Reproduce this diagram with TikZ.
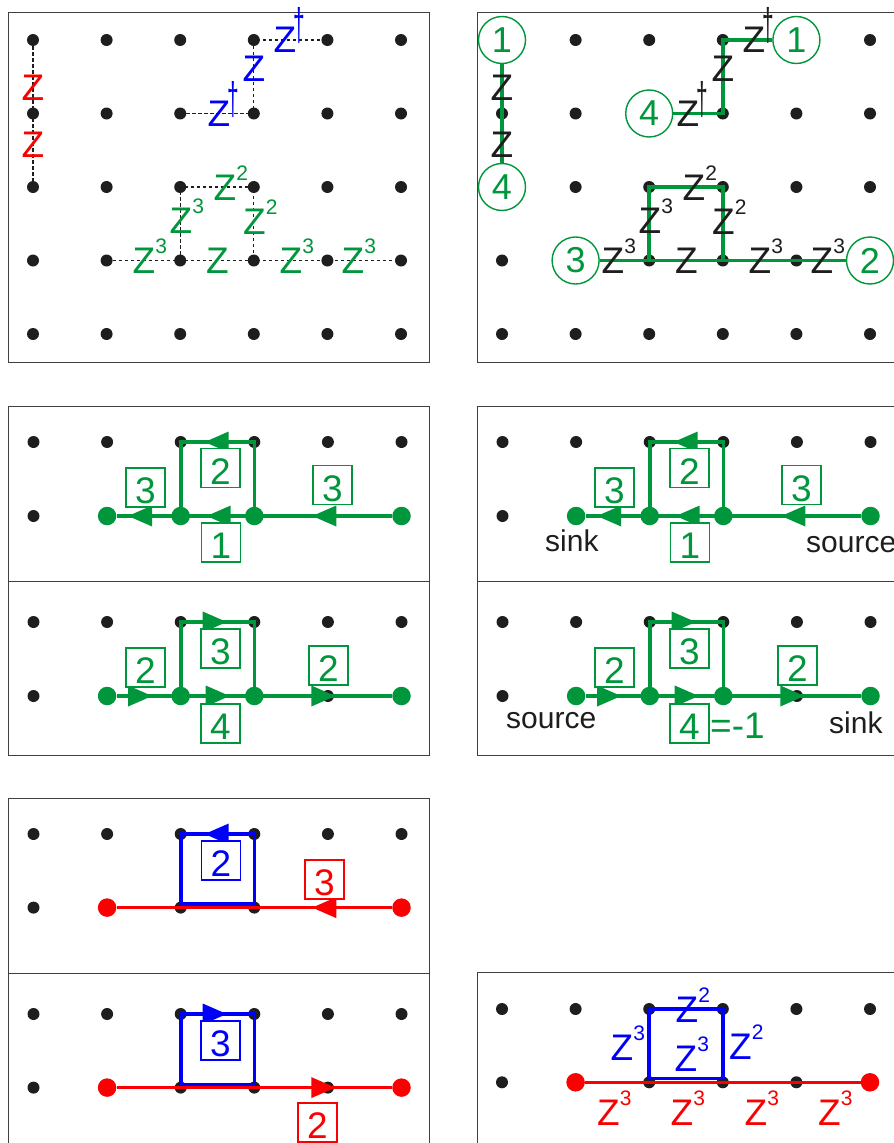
\documentclass[tikz,border=0pt]{standalone}
\usepackage{fontspec}
\setmainfont{Liberation Sans}
\usepackage{graphicx}
\usetikzlibrary{calc}

\definecolor{grn}{RGB}{0,150,60}
\definecolor{rd}{RGB}{250,0,0}
\definecolor{bl}{RGB}{0,0,250}
\definecolor{ink}{RGB}{30,30,30}

% Z with a small raised exponent that does not shift the Z off centre
\newcommand\Zsup[1]{Z\rlap{\smash{\raisebox{20pt}{\fontsize{21}{21}\selectfont #1}}}}
% Z with a slim, tall dagger
\newcommand\Zdag{Z\rlap{\smash{\hspace{-3pt}\raisebox{12pt}{\scalebox{0.55}[1.2]{\fontsize{38}{38}\selectfont †}}}}}

% filled triangular heads placed along an edge, offset from a grid point
\newcommand\headL[3]{\fill[#1] ($(#2)+(#3,0)$) -- ++(24,-10.5) -- ++(0,21) -- cycle;}
\newcommand\headR[3]{\fill[#1] ($(#2)+(#3,-10.5)$) -- ++(24,10.5) -- ++(-24,10.5) -- cycle;}

\tikzset{
  dot/.style={circle, fill=ink, inner sep=0pt, minimum size=12pt},
  bigdot/.style={circle, fill=#1, inner sep=0pt, minimum size=18.5pt},
  lab/.style={inner sep=0pt, font=\fontsize{37}{37}\selectfont},
  numbox/.style={draw=#1, text=#1, fill=white, line width=1.4pt, minimum size=39pt,
    inner sep=0pt, text height=32pt, text depth=0pt, font=\fontsize{37}{37}\selectfont},
  cnum/.style={circle, draw=grn, fill=white, text=grn, line width=1.4pt,
    minimum size=47pt, inner sep=0pt, font=\fontsize{36}{36}\selectfont},
  panel/.style={draw=black!75, line width=0.9pt},
  guide/.style={draw=ink, line width=1.3pt, dash pattern=on 3.5pt off 2.5pt},
  trail/.style={draw=#1, line width=3.6pt},
  note/.style={inner sep=0pt, anchor=base west, font=\fontsize{30}{30}\selectfont},
}

% two stacked flow panels (reversed flow above, forward flow below)
\newcommand\flowpanels[2]{%
  \foreach \i in {0,...,5}{\foreach \j in {0,1}{%
    \node[dot] (#1u-\i-\j) at ({#2+33.5+73.6*\i},{442+74*\j}) {};
    \node[dot] (#1l-\i-\j) at ({#2+33.5+73.6*\i},{622+74*\j}) {};}}
  \foreach \k in {1,2,3,5}{%
    \node[bigdot=grn] (#1u-g\k) at (#1u-\k-1) {};
    \node[bigdot=grn] (#1l-g\k) at (#1l-\k-1) {};}
  % upper half
  \draw[trail=grn] (#1u-g1) -- (#1u-g5);
  \draw[trail=grn] (#1u-g2) -- (#1u-2-0.center) -- (#1u-3-0.center) -- (#1u-g3);
  \headL{grn}{#1u-1-1}{21}
  \headL{grn}{#1u-2-1}{26}
  \headL{grn}{#1u-3-1}{58}
  \headL{grn}{#1u-2-0}{24}
  \node[numbox=grn] (#1u-b1) at ({#2+145.5},487.5) {3};
  \node[numbox=grn] (#1u-b2) at ({#2+220.5},468) {2};
  \node[numbox=grn] (#1u-b3) at ({#2+221},542.5) {1};
  \node[numbox=grn] (#1u-b4) at ({#2+332.5},485) {3};
  % lower half
  \draw[trail=grn] (#1l-g1) -- (#1l-g5);
  \draw[trail=grn] (#1l-g2) -- (#1l-2-0.center) -- (#1l-3-0.center) -- (#1l-g3);
  \headR{grn}{#1l-1-1}{21}
  \headR{grn}{#1l-2-1}{25}
  \headR{grn}{#1l-3-1}{57}
  \headR{grn}{#1l-2-0}{22}
  \node[numbox=grn] (#1l-b1) at ({#2+145.5},667.5) {2};
  \node[numbox=grn] (#1l-b2) at ({#2+220.5},648.5) {3};
  \node[numbox=grn] (#1l-b3) at ({#2+220.5},723.5) {4};
  \node[numbox=grn] (#1l-b4) at ({#2+328.5},665.5) {2};
}

\begin{document}
\begin{tikzpicture}[x=1pt, y=-1pt]
\useasboundingbox[fill=white] (0,0) rectangle (894,1143);

% panel outlines
\draw[panel] (8,12) rectangle (429,362);
\draw[panel] (477,12) rectangle (910,362);
\draw[panel] (8,406) rectangle (429,755);
\draw[panel] (8,581) -- (429,581);
\draw[panel] (477,406.5) rectangle (910,755.5);
\draw[panel] (477,581.5) -- (910,581.5);
\draw[panel] (8,798) rectangle (429,1160);
\draw[panel] (8,973) -- (429,973);
\draw[panel] (477,972) rectangle (910,1160);

% ---------- top row: lattices ----------
\foreach \i in {0,...,5}{\foreach \j in {0,...,4}{%
  \node[dot] (a-\i-\j) at ({33+73.6*\i},{40+73.5*\j}) {};
  \node[dot] (b-\i-\j) at ({502+73.6*\i},{40+73.5*\j}) {};}}

% left lattice: dashed bonds
\draw[guide] (a-0-0.center) -- (a-0-2.center);
\draw[guide] (a-2-1.center) -- (a-3-1.center) -- (a-3-0.center) -- (a-4-0.center);
\draw[guide] (a-1-3.center) -- (a-5-3.center);
\draw[guide] (a-2-3.center) -- (a-2-2.center) -- (a-3-2.center) -- (a-3-3.center);

\node[lab, text=rd] (za1) at (33,88) {Z};
\node[lab, text=rd] (za2) at (33,145) {Z};
\node[lab, text=bl] (za3) at (219,113.5) {\Zdag};
\node[lab, text=bl] (za4) at (254,69) {Z};
\node[lab, text=bl] (za5) at (285,40) {\Zdag};
\node[lab, text=grn] (za6) at (144,261) {\Zsup{3}};
\node[lab, text=grn] (za7) at (181,221) {\Zsup{3}};
\node[lab, text=grn] (za8) at (225,187.5) {\Zsup{2}};
\node[lab, text=grn] (za9) at (254.5,221.5) {\Zsup{2}};
\node[lab, text=grn] (za10) at (217.5,261) {Z};
\node[lab, text=grn] (za11) at (291,261) {\Zsup{3}};
\node[lab, text=grn] (za12) at (353,261) {\Zsup{3}};

% right lattice: numbered strings
\node[cnum] (c1a) at (b-0-0) {1};
\node[cnum] (c4a) at (b-0-2) {4};
\node[cnum] (c4b) at (b-2-1) {4};
\node[cnum] (c1b) at (b-4-0) {1};
\node[cnum] (c3)  at (b-1-3) {3};
\node[cnum] (c2)  at (b-5-3) {2};
\draw[trail=grn] (c1a) -- (c4a);
\draw[trail=grn] (c4b) -- (b-3-1.center) -- (b-3-0.center) -- (c1b);
\draw[trail=grn] (c3) -- (c2);
\draw[trail=grn] (b-2-3.center) -- (b-2-2.center) -- (b-3-2.center) -- (b-3-3.center);

\node[lab, text=ink] (zb1) at (502,88) {Z};
\node[lab, text=ink] (zb2) at (502,145) {Z};
\node[lab, text=ink] (zb3) at (688,113.5) {\Zdag};
\node[lab, text=ink] (zb4) at (723,69) {Z};
\node[lab, text=ink] (zb5) at (754,40) {\Zdag};
\node[lab, text=ink] (zb6) at (613,261) {\Zsup{3}};
\node[lab, text=ink] (zb7) at (650,221) {\Zsup{3}};
\node[lab, text=ink] (zb8) at (694,187.5) {\Zsup{2}};
\node[lab, text=ink] (zb9) at (723.5,221.5) {\Zsup{2}};
\node[lab, text=ink] (zb10) at (686.5,261) {Z};
\node[lab, text=ink] (zb11) at (760,261) {\Zsup{3}};
\node[lab, text=ink] (zb12) at (822,261) {\Zsup{3}};

% ---------- middle row: flows ----------
\flowpanels{m}{0}
\flowpanels{n}{469}
\node[note, text=ink] (snk1) at (545,551) {sink};
\node[note, text=ink] (src1) at (806,552) {source};
\node[note, text=ink] (src2) at (506,728) {source};
\node[note, text=ink] (snk2) at (829,733) {sink};
\node[note, text=grn, font=\fontsize{37}{37}\selectfont] (eq) at (710,738) {=-1};

% ---------- bottom row ----------
\foreach \i in {0,...,5}{\foreach \j in {0,1}{%
  \node[dot] (e-\i-\j) at ({33.5+73.6*\i},{834+73.6*\j}) {};
  \node[dot] (f-\i-\j) at ({33.5+73.6*\i},{1014+73.6*\j}) {};
  \node[dot] (g-\i-\j) at ({502+73.6*\i},{1009+73.3*\j}) {};}}

% upper left: red string with a blue loop
\node[bigdot=rd] (e-s) at (e-1-1) {};
\node[bigdot=rd] (e-t) at (e-5-1) {};
\draw[trail=rd] (e-s) -- (e-t);
\draw[trail=bl] (e-2-0.center) rectangle ($(e-3-1)+(0,-3.5)$);
\headL{bl}{e-2-0}{24}
\headL{rd}{e-3-1}{58}
\node[numbox=bl] (e-b1) at (221,860.5) {2};
\node[numbox=rd] (e-b2) at (324.5,879.5) {3};

% lower left
\node[bigdot=rd] (f-s) at (f-1-1) {};
\node[bigdot=rd] (f-t) at (f-5-1) {};
\draw[trail=rd] (f-s) -- (f-t);
\draw[trail=bl] (f-2-0.center) rectangle ($(f-3-1)+(0,-3)$);
\headR{bl}{f-2-0}{22}
\headR{rd}{f-3-1}{57}
\node[numbox=bl] (f-b1) at (220.5,1040.5) {3};
\node[numbox=rd] (f-b2) at (317.5,1122.5) {2};

% lower right: weighted result
\node[bigdot=rd] (g-s) at (g-1-1) {};
\node[bigdot=rd] (g-t) at (g-5-1) {};
\draw[trail=rd] (g-s) -- (g-t);
\draw[trail=bl] (g-2-0.center) rectangle ($(g-3-1)+(0,-4)$);
\node[lab, text=bl] (zg1) at (687,1010) {\Zsup{2}};
\node[lab, text=bl] (zg2) at (622,1047.5) {\Zsup{3}};
\node[lab, text=bl] (zg3) at (686,1059) {\Zsup{3}};
\node[lab, text=bl] (zg4) at (740.5,1047) {\Zsup{2}};
\node[lab, text=rd] (zg5) at (608.5,1113) {\Zsup{3}};
\node[lab, text=rd] (zg6) at (682,1113) {\Zsup{3}};
\node[lab, text=rd] (zg7) at (756,1113) {\Zsup{3}};
\node[lab, text=rd] (zg8) at (829.5,1113) {\Zsup{3}};
\end{tikzpicture}
\end{document}
